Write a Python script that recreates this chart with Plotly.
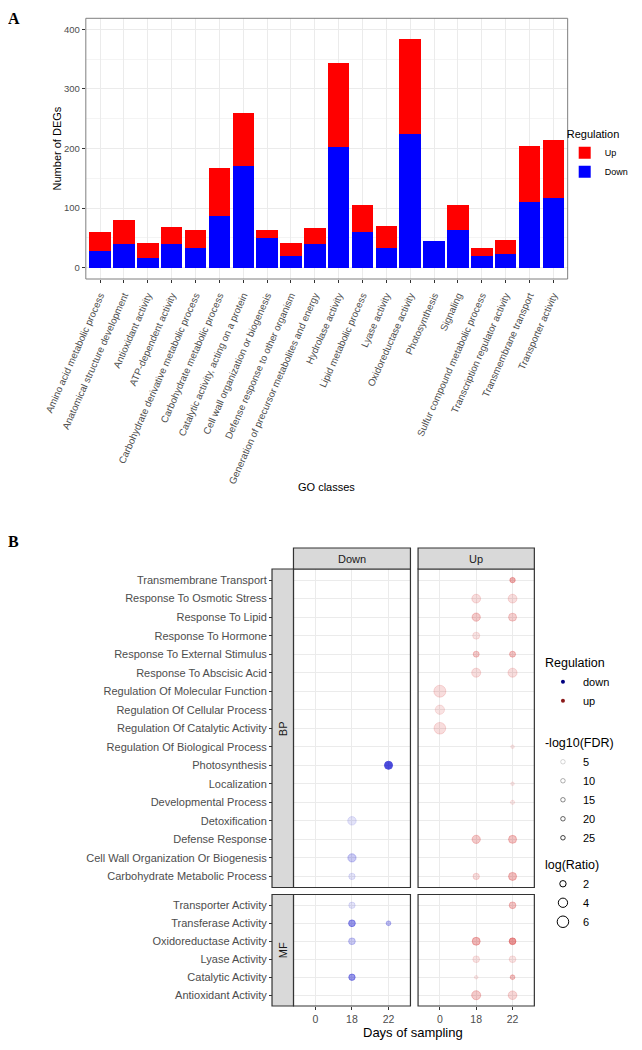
import plotly.graph_objects as go

W, H = 642, 1050
OFF = 8
FW, FH = W - 2 * OFF, H - 2 * OFF
FONT = "Liberation Sans, Arial, sans-serif"

# ---------------- Panel A data ----------------
go_classes = [
    "Amino acid metabolic process", "Anatomical structure development", "Antioxidant activity",
    "ATP-dependent activity", "Carbohydrate derivative metabolic process", "Carbohydrate metabolic process",
    "Catalytic activity, acting on a protein", "Cell wall organization or biogenesis",
    "Defense response to other organism", "Generation of precursor metabolites and energy",
    "Hydrolase activity", "Lipid metabolic process", "Lyase activity", "Oxidoreductase activity",
    "Photosynthesis", "Signaling", "Sulfur compound metabolic process",
    "Transcription regulator activity", "Transmembrane transport", "Transporter activity"]
down_degs = [28, 39, 17, 40, 33, 86, 171, 49, 19, 39, 202, 60, 33, 224, 44, 64, 19, 23, 111, 117]
up_degs = [32, 41, 24, 28, 30, 81, 88, 14, 22, 27, 141, 46, 37, 160, 0, 42, 14, 24, 93, 97]

# ---------------- Panel B data ----------------
bp_terms = [
    "Transmembrane Transport", "Response To Osmotic Stress", "Response To Lipid",
    "Response To Hormone", "Response To External Stimulus", "Response To Abscisic Acid",
    "Regulation Of Molecular Function", "Regulation Of Cellular Process",
    "Regulation Of Catalytic Activity", "Regulation Of Biological Process", "Photosynthesis",
    "Localization", "Developmental Process", "Detoxification", "Defense Response",
    "Cell Wall Organization Or Biogenesis", "Carbohydrate Metabolic Process"]
mf_terms = [
    "Transporter Activity", "Transferase Activity", "Oxidoreductase Activity",
    "Lyase Activity", "Catalytic Activity", "Antioxidant Activity"]
days = ["0", "18", "22"]

dot_ontology = ["BP"] * 24 + ["MF"] * 14
dot_term = [
    "Transmembrane Transport", "Response To Osmotic Stress", "Response To Osmotic Stress",
    "Response To Lipid", "Response To Lipid", "Response To Hormone",
    "Response To External Stimulus", "Response To External Stimulus",
    "Response To Abscisic Acid", "Response To Abscisic Acid",
    "Regulation Of Molecular Function", "Regulation Of Cellular Process",
    "Regulation Of Catalytic Activity", "Regulation Of Biological Process", "Photosynthesis",
    "Localization", "Developmental Process", "Detoxification", "Defense Response",
    "Defense Response", "Cell Wall Organization Or Biogenesis",
    "Carbohydrate Metabolic Process", "Carbohydrate Metabolic Process",
    "Carbohydrate Metabolic Process",
    "Transporter Activity", "Transporter Activity", "Transferase Activity",
    "Transferase Activity", "Oxidoreductase Activity", "Oxidoreductase Activity",
    "Oxidoreductase Activity", "Lyase Activity", "Lyase Activity", "Catalytic Activity",
    "Catalytic Activity", "Catalytic Activity", "Antioxidant Activity", "Antioxidant Activity"]
dot_regulation = [
    "up", "up", "up", "up", "up", "up", "up", "up", "up", "up", "up", "up", "up", "up",
    "down", "up", "up", "down", "up", "up", "down", "down", "up", "up",
    "down", "up", "down", "down", "down", "up", "up", "up", "up", "down", "up", "up", "up", "up"]
dot_day = [
    "22", "18", "22", "18", "22", "18", "18", "22", "18", "22", "0", "0", "0", "22",
    "22", "22", "22", "18", "18", "22", "18", "18", "18", "22",
    "18", "22", "18", "22", "18", "18", "22", "18", "22", "18", "18", "22", "18", "22"]
dot_neglog_fdr = [
    12, 5, 5, 8, 7, 4, 8, 9, 5, 5, 5, 4, 5, 3,
    28, 3, 3, 4, 8, 9, 8, 4, 5, 10,
    4, 9, 16, 10, 8, 11, 16, 4, 4, 16, 3, 9, 8, 6]
dot_log_ratio = [
    1.5, 3.6, 3.6, 3.2, 3.0, 2.4, 1.8, 1.8, 3.8, 3.8, 6.5, 4.0, 6.2, 0.8,
    3.0, 0.8, 1.0, 3.4, 3.2, 3.0, 3.2, 2.0, 2.0, 3.0,
    2.0, 2.2, 2.2, 1.2, 2.2, 3.0, 2.2, 2.2, 2.2, 2.0, 0.8, 1.2, 3.8, 3.5]

reg_levels = ["down", "up"]
fdr_breaks = [5, 10, 15, 20, 25]
ratio_breaks = [2, 4, 6]

# ---------------- style helpers ----------------
REG_RGB = {"down": (0, 0, 205), "up": (205, 0, 0)}
REG_LEGEND = {"down": "#000080", "up": "#8B1A1A"}
FDR_LIM = (2.5, 28.0)
RATIO_LIM = (0.5, 6.5)
D_MIN, D_MAX = 2.5, 12.0


def alpha_of(v):
    t = (v - FDR_LIM[0]) / (FDR_LIM[1] - FDR_LIM[0])
    t = min(max(t, 0), 1)
    return 0.1 + 0.9 * t


def size_of(v):
    t = (v - RATIO_LIM[0]) / (RATIO_LIM[1] - RATIO_LIM[0])
    t = min(max(t, 0), 1)
    return (D_MIN ** 2 + t * (D_MAX ** 2 - D_MIN ** 2)) ** 0.5


def px(x):
    return (x - OFF) / FW


def py(y):
    return 1 - (y - OFF) / FH


# panel B geometry (screen pixels)
BP_TOP, BP_BOT = 569, 887.5
MF_TOP, MF_BOT = 894.5, 1006

fig = go.Figure()

# ---------------- Panel A ----------------
fig.add_trace(go.Bar(x=go_classes, y=down_degs, name="Down", marker=dict(color="#0000FF", line=dict(width=0)),
                     xaxis="x", yaxis="y", legend="legend", hoverinfo="x+y"))
fig.add_trace(go.Bar(x=go_classes, y=up_degs, name="Up", marker=dict(color="#FF0000", line=dict(width=0)),
                     xaxis="x", yaxis="y", legend="legend", hoverinfo="x+y"))

# ---------------- Panel B ----------------
for ont, yax in (("BP", "y2"), ("MF", "y3")):
    for reg, xax in (("down", "x2"), ("up", "x3")):
        idx = [i for i in range(len(dot_term)) if dot_ontology[i] == ont and dot_regulation[i] == reg]
        r, g, b = REG_RGB[reg]
        cols = ["rgba(%d,%d,%d,%.3f)" % (r, g, b, alpha_of(dot_neglog_fdr[i])) for i in idx]
        fig.add_trace(go.Scatter(
            x=[dot_day[i] for i in idx], y=[dot_term[i] for i in idx], mode="markers",
            xaxis=xax, yaxis=yax, showlegend=False,
            marker=dict(size=[size_of(dot_log_ratio[i]) for i in idx], color=cols,
                        line=dict(color=cols, width=1))))

# legend-only traces for panel B
for reg in reg_levels:
    fig.add_trace(go.Scatter(x=[None], y=[None], mode="markers", name=reg, xaxis="x2", yaxis="y2",
                             legend="legend2", marker=dict(size=4, color=REG_LEGEND[reg])))
for v in fdr_breaks:
    fig.add_trace(go.Scatter(x=[None], y=[None], mode="markers", name=str(v), xaxis="x2", yaxis="y2",
                             legend="legend3",
                             marker=dict(size=4.5, symbol="circle-open",
                                         color="rgba(40,40,40,%.3f)" % alpha_of(v), line=dict(width=1))))
for v in ratio_breaks:
    fig.add_trace(go.Scatter(x=[None], y=[None], mode="markers", name=str(v), xaxis="x2", yaxis="y2",
                             legend="legend4",
                             marker=dict(size=size_of(v), symbol="circle-open", color="black",
                                         line=dict(width=1))))

GRID = "#EBEBEB"
TICKC = "#4D4D4D"
LINE = "#333333"

axis_common = dict(showgrid=True, gridcolor=GRID, gridwidth=1, zeroline=False, showline=False,
                   ticks="outside", ticklen=3, tickcolor=LINE, tickwidth=1)

fig.update_layout(
    width=FW, height=FH, margin=dict(l=0, r=0, t=0, b=0),
    template="none", paper_bgcolor="white", plot_bgcolor="white",
    font=dict(family=FONT, color="black"),
    barmode="stack", bargap=0.1,
    xaxis=dict(domain=[px(86.7), px(574)], anchor="y", type="category", categoryorder="array",
               categoryarray=go_classes, range=[-0.6, 19.6], tickangle=-66,
               tickfont=dict(size=9.8, color=TICKC), ticklabelstandoff=3, **axis_common),
    yaxis=dict(domain=[py(279), py(18.3)], anchor="x", range=[-19, 418.5], tickvals=[0, 100, 200, 300, 400],
               tickfont=dict(size=9.5, color=TICKC),
               minor=dict(tickvals=[50, 150, 250, 350], showgrid=True, gridcolor="#F4F4F4", gridwidth=0.6,
                          ticks=""),
               **axis_common),
    xaxis2=dict(domain=[px(296.7), px(415)], anchor="y3", type="category", categoryorder="array",
                categoryarray=days, range=[-0.6, 2.6], tickfont=dict(size=10.5, color=TICKC), **axis_common),
    xaxis3=dict(domain=[px(422.7), px(540.3)], anchor="y3", type="category", categoryorder="array",
                categoryarray=days, range=[-0.6, 2.6], tickfont=dict(size=10.5, color=TICKC), **axis_common),
    yaxis2=dict(domain=[py(BP_BOT), py(BP_TOP)], anchor="free", position=px(275), type="category",
                categoryorder="array", categoryarray=bp_terms, range=[len(bp_terms) - 0.4, -0.6],
                tickfont=dict(size=11, color=TICKC), **axis_common),
    yaxis3=dict(domain=[py(MF_BOT), py(MF_TOP)], anchor="free", position=px(275), type="category",
                categoryorder="array", categoryarray=mf_terms, range=[len(mf_terms) - 0.4, -0.6],
                tickfont=dict(size=11, color=TICKC), **axis_common),
    legend=dict(x=px(571), y=py(124), xanchor="left", yanchor="top", traceorder="reversed",
                title=dict(text="Regulation", font=dict(size=11)), font=dict(size=9),
                bgcolor="rgba(0,0,0,0)", tracegroupgap=0, itemwidth=30),
    legend2=dict(x=px(549), y=py(651), xanchor="left", yanchor="top",
                 title=dict(text="Regulation", font=dict(size=12.5)), font=dict(size=11),
                 bgcolor="rgba(0,0,0,0)", itemwidth=30),
    legend3=dict(x=px(549), y=py(731), xanchor="left", yanchor="top",
                 title=dict(text="-log10(FDR)", font=dict(size=12.5)), font=dict(size=11),
                 bgcolor="rgba(0,0,0,0)", itemwidth=30),
    legend4=dict(x=px(549), y=py(853), xanchor="left", yanchor="top",
                 title=dict(text="log(Ratio)", font=dict(size=12.5)), font=dict(size=11),
                 bgcolor="rgba(0,0,0,0)", itemwidth=30),
)

shapes = []
# panel borders
for xr, yr, col, w in (("x", "y", "#7F7F7F", 1), ("x2", "y2", LINE, 1.2), ("x3", "y2", LINE, 1.2),
                       ("x2", "y3", LINE, 1.2), ("x3", "y3", LINE, 1.2)):
    shapes.append(dict(type="rect", xref=xr + " domain", yref=yr + " domain", x0=0, x1=1, y0=0, y1=1,
                       line=dict(color=col, width=w), fillcolor="rgba(0,0,0,0)", layer="above"))
# column strips
for xr in ("x2", "x3"):
    shapes.append(dict(type="rect", xref=xr + " domain", yref="paper", x0=0, x1=1, y0=py(BP_TOP), y1=py(548),
                       line=dict(color=LINE, width=1.2), fillcolor="#D9D9D9", layer="above"))
# row strips
for yr in ("y2", "y3"):
    shapes.append(dict(type="rect", xref="paper", yref=yr + " domain", x0=px(275), x1=px(296.7), y0=0, y1=1,
                       line=dict(color=LINE, width=1.2), fillcolor="#D9D9D9", layer="above"))
fig.update_layout(shapes=shapes)

ann = [
    dict(text="<b>A</b>", x=px(14), y=1, yanchor="top", font=dict(family="Liberation Serif, Times New Roman, serif",
                                                                  size=16, color="black")),
    dict(text="<b>B</b>", x=px(14), y=py(541), font=dict(family="Liberation Serif, Times New Roman, serif",
                                                          size=16, color="black")),
    dict(text="Number of DEGs", x=px(58), y=py(148), textangle=-90, font=dict(size=11)),
    dict(text="GO classes", x=px(330), y=py(487), font=dict(size=11)),
    dict(text="Days of sampling", x=px(418), y=0, yanchor="bottom", font=dict(size=13)),
    dict(text="Down", x=px((296.7 + 415) / 2), y=py(558.5), font=dict(size=11, color="#1A1A1A")),
    dict(text="Up", x=px((422.7 + 540.3) / 2), y=py(558.5), font=dict(size=11, color="#1A1A1A")),
    dict(text="BP", x=px(286), y=py((BP_TOP + BP_BOT) / 2), textangle=-90, font=dict(size=11, color="#1A1A1A")),
    dict(text="MF", x=px(286), y=py((MF_TOP + MF_BOT) / 2), textangle=-90, font=dict(size=11, color="#1A1A1A")),
]
for a in ann:
    a.setdefault("yanchor", "middle")
    a.update(xref="paper", yref="paper", showarrow=False, xanchor="center")
fig.update_layout(annotations=ann)

fig.write_html("out.html")
